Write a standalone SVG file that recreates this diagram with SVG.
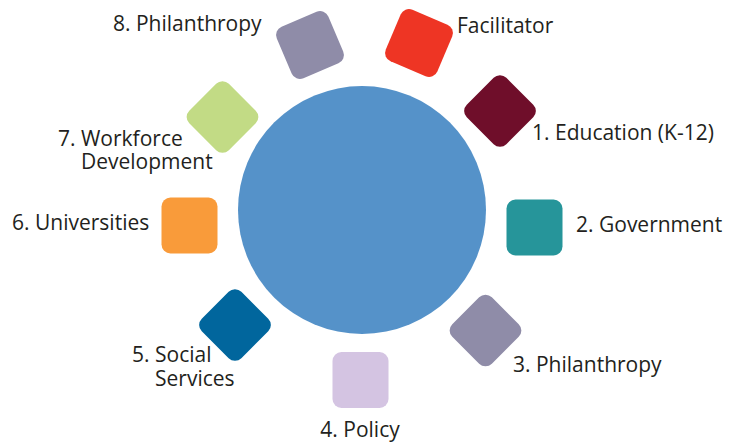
<svg xmlns="http://www.w3.org/2000/svg" width="741" height="443" viewBox="0 0 741 443">
<style>
.lbl{font-family:"Open Sans","Noto Sans","Liberation Sans",sans-serif;font-size:21px;fill:#231F20}
</style>
<defs>
<rect id="sq" x="-28" y="-28" width="56" height="56" rx="9" ry="9"/>
</defs>
<rect width="741" height="443" fill="#FFFFFF"/>
<g id="connectors"></g>
<g id="center">
<circle cx="362" cy="210" r="124" fill="#5592C9"/>
</g>
<g id="facilitator">
<use href="#sq" transform="translate(419,43) rotate(23)" fill="#EE3524"/>
<text class="lbl" x="457" y="33">Facilitator</text>
</g>
<g id="n1">
<use href="#sq" transform="translate(500,111) rotate(45)" fill="#6F0E2A"/>
<text class="lbl" x="532" y="140">1. Education (K-12)</text>
</g>
<g id="n2">
<use href="#sq" transform="translate(534.5,227.5)" fill="#26959A"/>
<text class="lbl" x="576" y="232">2. Government</text>
</g>
<g id="n3">
<use href="#sq" transform="translate(485.5,330.5) rotate(45)" fill="#8F8CA8"/>
<text class="lbl" x="513" y="372">3. Philanthropy</text>
</g>
<g id="n4">
<use href="#sq" transform="translate(360.5,380)" fill="#D4C4E2"/>
<text class="lbl" x="360" y="437" text-anchor="middle">4. Policy</text>
</g>
<g id="n5">
<use href="#sq" transform="translate(235,325) rotate(45)" fill="#01669D"/>
<text class="lbl"><tspan x="132" y="362">5. Social</tspan><tspan x="155" y="386">Services</tspan></text>
</g>
<g id="n6">
<use href="#sq" transform="translate(189.5,225.5)" fill="#F99B3A"/>
<text class="lbl" x="12" y="230">6. Universities</text>
</g>
<g id="n7">
<use href="#sq" transform="translate(222.5,117) rotate(45)" fill="#C2DB85"/>
<text class="lbl"><tspan x="58" y="146">7. Workforce</tspan><tspan x="81" y="169">Development</tspan></text>
</g>
<g id="n8">
<use href="#sq" transform="translate(310,45) rotate(-23)" fill="#8F8CA8"/>
<text class="lbl" x="113" y="31">8. Philanthropy</text>
</g>
</svg>
